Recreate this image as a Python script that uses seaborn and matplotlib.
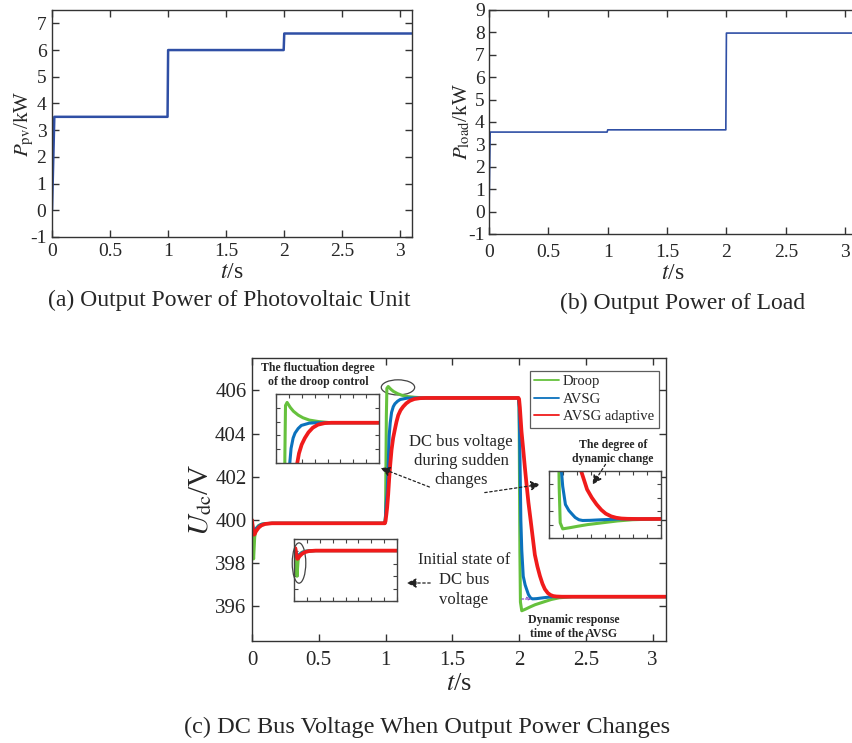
import matplotlib
matplotlib.use("Agg")
import matplotlib.pyplot as plt
import seaborn as sns
from matplotlib.patches import Ellipse
from matplotlib.lines import Line2D

# ---- data ----
# (a) PV output power
pv_t = [0, 0.02, 0.995, 1.0, 1.995, 2.0, 3.1]
pv_p = [0, 3.5, 3.5, 6.0, 6.0, 6.62, 6.62]

# (b) load power
load_t = [0, 0.01, 0.995, 1.0, 1.995, 2.0, 3.1]
load_p = [0, 3.55, 3.55, 3.65, 3.65, 7.97, 7.97]

# (c) DC bus voltage
droop_t = [0, 0.004, 0.008, 0.012, 0.02, 0.03, 0.05, 0.08, 0.15, 0.995,
           1.0, 1.003, 1.006, 1.01, 1.02, 1.04, 1.06, 1.09, 1.12, 1.16, 1.22, 1.3,
           1.995, 2.0, 2.003, 2.006, 2.01, 2.02, 2.05, 2.08, 2.12, 2.18, 2.24, 2.3, 2.4, 3.1]
droop_v = [400.0, 399.5, 398.7, 398.2, 399.2, 399.6, 399.75, 399.82, 399.85, 399.85,
           400.2, 402.5, 404.8, 406.1, 406.18, 406.05, 405.95, 405.85, 405.78, 405.72, 405.68, 405.65,
           405.65, 405.3, 402.0, 398.5, 396.2, 395.8, 395.88, 395.97, 396.08, 396.2, 396.32, 396.4, 396.45, 396.45]

avsg_t = [0, 0.005, 0.01, 0.015, 0.02, 0.03, 0.05, 0.07, 0.1, 0.15, 0.995,
          1.0, 1.005, 1.012, 1.02, 1.027, 1.035, 1.045, 1.058, 1.07, 1.09, 1.11, 1.16, 1.2,
          1.995, 2.0, 2.005, 2.009, 2.013, 2.02, 2.031, 2.045, 2.056, 2.07, 2.085, 2.1, 2.13, 2.18, 2.25, 3.1]
avsg_v = [400.0, 399.75, 399.55, 399.45, 399.5, 399.6, 399.72, 399.8, 399.83, 399.85, 399.85,
          400.2, 400.8, 401.25, 402.58, 403.9, 404.5, 404.98, 405.25, 405.38, 405.5, 405.58, 405.64, 405.65,
          405.65, 405.2, 403.5, 401.8, 400.0, 398.6, 397.4, 397.0, 396.8, 396.55, 396.4, 396.35, 396.36, 396.4, 396.45, 396.45]

adapt_t = [0, 0.005, 0.01, 0.015, 0.02, 0.03, 0.05, 0.07, 0.1, 0.15, 0.995,
           1.0, 1.006, 1.012, 1.02, 1.027, 1.035, 1.045, 1.057, 1.07, 1.082, 1.095, 1.112, 1.132, 1.155,
           1.182, 1.215, 1.257, 1.3,
           1.995, 2.0, 2.006, 2.018, 2.031, 2.043, 2.056, 2.07, 2.086, 2.1, 2.118, 2.137, 2.156, 2.175,
           2.193, 2.215, 2.235, 2.256, 2.28, 2.32, 3.1]
adapt_v = [400.0, 399.7, 399.45, 399.32, 399.35, 399.48, 399.65, 399.75, 399.82, 399.85, 399.85,
           399.95, 400.25, 400.58, 401.2, 401.9, 402.55, 403.25, 403.8, 404.2, 404.55, 404.85, 405.08, 405.25,
           405.4, 405.52, 405.6, 405.64, 405.65,
           405.65, 405.6, 405.2, 404.1, 403.26, 402.45, 401.63, 400.8, 400.01, 399.3, 398.39, 397.85,
           397.41, 397.05, 396.8, 396.62, 396.53, 396.48, 396.46, 396.45, 396.45]

legend_labels = ["Droop", "AVSG", "AVSG adaptive"]
c_green, c_blue, c_red = "#66c13d", "#0b72bd", "#f01b1b"
c_top = "#2f4fa5"
xt = [0, 0.5, 1, 1.5, 2, 2.5, 3]
xt_lab = ["0", "0.5", "1", "1.5", "2", "2.5", "3"]

# ---- style ----
sns.set_style("ticks")
plt.rcParams["font.family"] = ["Liberation Serif", "DejaVu Serif"]
plt.rcParams["mathtext.fontset"] = "stix"
plt.rcParams["axes.unicode_minus"] = False
plt.rcParams["axes.edgecolor"] = "#333333"
plt.rcParams["axes.linewidth"] = 1.0

W, H = 852, 743
fig = plt.figure(figsize=(W / 100, H / 100), dpi=100)


def box(l, t, r, b):
    return [l / W, 1 - b / H, (r - l) / W, (b - t) / H]


def fp(x, y):
    return (x / W, 1 - y / H)


def style_ax(ax, size=14, pad=3, right=True):
    ax.tick_params(direction="in", top=True, right=right, length=5, width=1,
                   labelsize=size, color="#333333", pad=pad)


# (a)
ax_a = fig.add_axes(box(52, 10, 412, 237))
sns.lineplot(x=pv_t, y=pv_p, ax=ax_a, color=c_top, lw=1.8, estimator=None, sort=False)
ax_a.set_xlim(0, 3.1)
ax_a.set_ylim(-1, 7.5)
ax_a.set_yticks(range(-1, 8))
ax_a.set_xticks(xt)
ax_a.set_xticklabels(xt_lab)
style_ax(ax_a, pad=4)
ax_a.set_ylabel(r"$P_{\mathrm{pv}}$/kW", fontsize=15, labelpad=-4)
ax_a.set_xlabel(r"$t$/s", fontsize=17, labelpad=2)
fig.text(*fp(229, 300), "(a) Output Power of Photovoltaic Unit", ha="center", va="center", fontsize=17)

# (b)
ax_b = fig.add_axes(box(489, 10, 857, 234))
sns.lineplot(x=load_t, y=load_p, ax=ax_b, color=c_top, lw=1.2, estimator=None, sort=False)
ax_b.set_xlim(0, 3.1)
ax_b.set_ylim(-1, 9)
ax_b.set_yticks(range(-1, 10))
ax_b.set_xticks(xt)
ax_b.set_xticklabels(xt_lab)
style_ax(ax_b, pad=7, right=False)
ax_b.tick_params(axis="y", pad=3)
ax_b.set_ylabel(r"$P_{\mathrm{load}}$/kW", fontsize=15, labelpad=-3)
ax_b.set_xlabel(r"$t$/s", fontsize=17, labelpad=2)
fig.text(*fp(683, 303), "(b) Output Power of Load", ha="center", va="center", fontsize=17)

# (c)
ax_c = fig.add_axes(box(252, 358, 666, 641))


def draw_volt(ax, lw=1.0):
    sns.lineplot(x=droop_t, y=droop_v, ax=ax, color=c_green, lw=2.2 * lw, estimator=None, sort=False)
    sns.lineplot(x=avsg_t, y=avsg_v, ax=ax, color=c_blue, lw=2.2 * lw, estimator=None, sort=False)
    sns.lineplot(x=adapt_t, y=adapt_v, ax=ax, color=c_red, lw=2.7 * lw, estimator=None, sort=False)


draw_volt(ax_c)
ax_c.set_xlim(0, 3.1)
ax_c.set_ylim(394.4, 407.5)
ax_c.set_yticks([396, 398, 400, 402, 404, 406])
ax_c.set_xticks(xt)
ax_c.set_xticklabels(xt_lab)
style_ax(ax_c, 15, pad=7)
ax_c.tick_params(axis="y", pad=4)
ax_c.set_ylabel(r"$U_{\mathrm{dc}}$/V", fontsize=21, labelpad=1)
ax_c.set_xlabel(r"$t$/s", fontsize=19, labelpad=2)

handles = [Line2D([], [], color=c, lw=1.3) for c in (c_green, c_blue, c_red)]
leg = ax_c.legend(handles, legend_labels, loc="upper right", bbox_to_anchor=(0.982, 0.955),
                  fontsize=10.5, frameon=True, fancybox=False, handlelength=1.7,
                  borderpad=0.3, labelspacing=0.3, handletextpad=0.3, borderaxespad=0)
leg.get_frame().set_edgecolor("#333333")
leg.get_frame().set_linewidth(0.9)

ax_c.add_patch(Ellipse((1.093, 406.14), 0.25, 0.7, fill=False, ec="#444444", lw=0.9))

# insets
ins_cfg = [
    (box(276, 394, 379, 463), (0.95, 1.6), (404.6, 406.4)),
    (box(294, 539, 397, 601), (-0.01, 0.75), (396.6, 400.6)),
    (box(549, 471, 661, 538), (1.965, 2.415), (395.2, 399.6)),
]
insets = []
for pos, xl, yl in ins_cfg:
    ai = fig.add_axes(pos)
    ai.set_facecolor("white")
    draw_volt(ai, 1.0)
    ai.set_xlim(*xl)
    ai.set_ylim(*yl)
    ai.xaxis.set_major_locator(matplotlib.ticker.LinearLocator(9))
    ai.yaxis.set_major_locator(matplotlib.ticker.LinearLocator(6))
    ai.tick_params(direction="in", top=True, right=True, length=3, width=0.8,
                   labelbottom=False, labelleft=False, color="#444444")
    for s in ai.spines.values():
        s.set_color("#444444")
    insets.append(ai)

insets[1].add_patch(Ellipse((0.027, 399.05), 0.1, 2.6, fill=False, ec="#444444", lw=0.9, clip_on=False))

# annotation texts
fig.text(*fp(318, 375), "The fluctuation degree\nof the droop control", ha="center", va="center",
         fontsize=8.5, fontweight="bold", linespacing=1.3)
fig.text(*fp(461, 461), "DC bus voltage\nduring sudden\nchanges", ha="center", va="center",
         fontsize=12, linespacing=1.25)
fig.text(*fp(464, 580), "Initial state of\nDC bus\nvoltage", ha="center", va="center",
         fontsize=12, linespacing=1.35)
fig.text(*fp(613, 452), "The degree of\ndynamic change", ha="center", va="center",
         fontsize=8.5, fontweight="bold", linespacing=1.3)
fig.text(*fp(574, 627), "Dynamic response\ntime of the AVSG", ha="center", va="center",
         fontsize=8.5, fontweight="bold", linespacing=1.3)

arrows = [((432, 488), (378, 467)), ((482, 493), (543, 484)), ((433, 583), (404, 583)),
          ((607, 462), (591, 487))]
for (x0, y0), (x1, y1) in arrows:
    fig.add_artist(matplotlib.patches.FancyArrowPatch(
        fp(x0, y0), fp(x1, y1), transform=fig.transFigure, arrowstyle="-|>",
        mutation_scale=14, lw=0.9, ls=(0, (2, 2)), color="#222222"))
fig.add_artist(matplotlib.patches.FancyArrowPatch(
    fp(519, 599), fp(534, 599), transform=fig.transFigure, arrowstyle="->",
    mutation_scale=6, lw=0.9, ls=(0, (1.5, 1.5)), color="#8a4fc8"))

fig.text(*fp(427, 727), "(c) DC Bus Voltage When Output Power Changes", ha="center", va="center",
         fontsize=17.5)

fig.savefig("out.png", dpi=100)
